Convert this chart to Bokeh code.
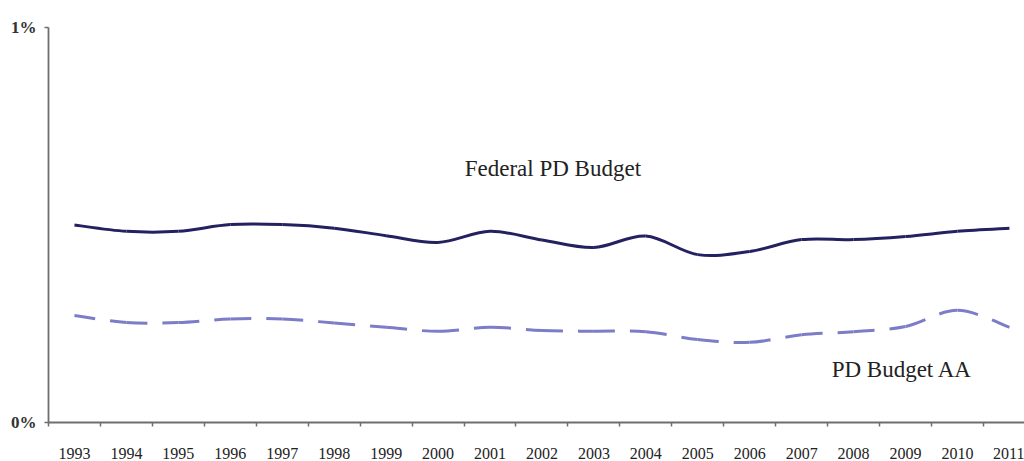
from bokeh.plotting import figure
from bokeh.models import Range1d, FixedTicker, Label
from bokeh.embed import file_html
from bokeh.resources import INLINE

# ---- data (percent of budget) ----
years = ["1993", "1994", "1995", "1996", "1997", "1998", "1999", "2000", "2001", "2002",
         "2003", "2004", "2005", "2006", "2007", "2008", "2009", "2010", "2011"]
federal_pd = [0.500, 0.484, 0.484, 0.501, 0.501, 0.492, 0.473, 0.456, 0.484, 0.462,
              0.443, 0.472, 0.425, 0.433, 0.463, 0.463, 0.471, 0.484, 0.492]
pd_aa = [0.271, 0.253, 0.253, 0.262, 0.262, 0.252, 0.241, 0.231, 0.241, 0.233,
         0.231, 0.230, 0.210, 0.203, 0.222, 0.230, 0.243, 0.284, 0.241]
y_ticks = [0, 1]
y_tick_labels = ["0%", "1%"]

FONT = "Liberation Serif"
AXIS_COLOR = "#6e6e6e"

p = figure(width=1024, height=461, output_backend="svg", toolbar_location=None,
           x_range=Range1d(-0.5, 18.29), y_range=Range1d(0, 1),
           min_border_left=48, min_border_top=27, min_border_bottom=39, min_border_right=0)
p.outline_line_color = None
p.xgrid.visible = False
p.ygrid.visible = False
p.background_fill_color = "white"
p.border_fill_color = "white"

xs = list(range(len(years)))


def smooth(xv, yv):
    """Bezier segments through the data points (Excel-like smoothing)."""
    n = len(xv)
    seg = dict(x0=[], y0=[], x1=[], y1=[], cx0=[], cy0=[], cx1=[], cy1=[])
    for i in range(n - 1):
        im1 = max(i - 1, 0)
        ip2 = min(i + 2, n - 1)
        seg["x0"].append(xv[i]); seg["y0"].append(yv[i])
        seg["x1"].append(xv[i + 1]); seg["y1"].append(yv[i + 1])
        seg["cx0"].append(xv[i] + (xv[i + 1] - xv[im1]) / 6.0)
        seg["cy0"].append(yv[i] + (yv[i + 1] - yv[im1]) / 6.0)
        seg["cx1"].append(xv[i + 1] - (xv[ip2] - xv[i]) / 6.0)
        seg["cy1"].append(yv[i + 1] - (yv[ip2] - yv[i]) / 6.0)
    return seg


p.bezier(**smooth(xs, federal_pd), line_color="#23215f", line_width=3)
p.bezier(**smooth(xs, pd_aa), line_color="#7c7cc8", line_width=3,
         line_dash="37 15", line_dash_offset=16)

# ---- x axis ----
xa = p.xaxis[0]
xa.ticker = FixedTicker(ticks=xs, minor_ticks=[i - 0.5 for i in range(len(years) + 1)])
xa.major_label_overrides = {i: y for i, y in enumerate(years)}
xa.major_tick_line_color = None
xa.major_tick_out = 0
xa.major_tick_in = 0
xa.minor_tick_line_color = AXIS_COLOR
xa.minor_tick_line_width = 1.5
xa.minor_tick_out = 4
xa.minor_tick_in = 0
xa.axis_line_color = AXIS_COLOR
xa.axis_line_width = 1.8
xa.major_label_text_font = FONT
xa.major_label_text_font_size = "16px"
xa.major_label_text_color = "#222222"
xa.major_label_standoff = 21

# ---- y axis ----
ya = p.yaxis[0]
ya.ticker = FixedTicker(ticks=y_ticks, minor_ticks=[])
ya.major_label_overrides = {t: l for t, l in zip(y_ticks, y_tick_labels)}
ya.major_tick_line_color = AXIS_COLOR
ya.major_tick_line_width = 1.5
ya.major_tick_out = 4
ya.major_tick_in = 0
ya.minor_tick_line_color = None
ya.axis_line_color = AXIS_COLOR
ya.axis_line_width = 1.8
ya.major_label_text_font = FONT
ya.major_label_text_font_size = "17px"
ya.major_label_text_font_style = "bold"
ya.major_label_text_color = "#333333"
ya.major_label_standoff = 8

# ---- series labels ----
p.add_layout(Label(x=9.21, y=0.643, text="Federal PD Budget", text_font=FONT,
                   text_font_size="23px", text_color="#222222",
                   text_align="center", text_baseline="middle"))
p.add_layout(Label(x=15.93, y=0.134, text="PD Budget AA", text_font=FONT,
                   text_font_size="23px", text_color="#222222",
                   text_align="center", text_baseline="middle"))

open("out.html", "w").write(file_html(p, INLINE))
